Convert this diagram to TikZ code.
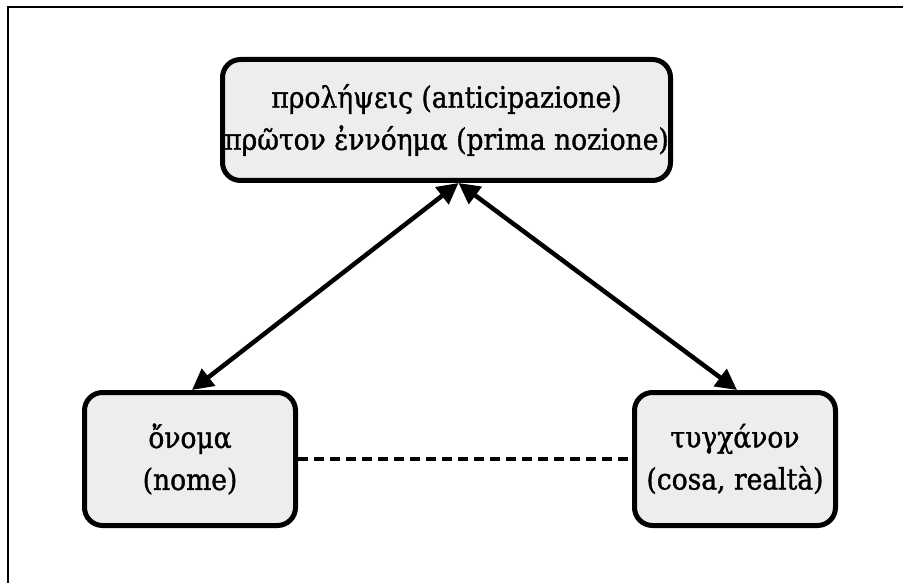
\documentclass[tikz,border=0pt]{standalone}
\usepackage{fontspec}
\setmainfont[FakeBold=1.2]{DejaVu Serif Condensed}
\usetikzlibrary{arrows.meta}
\begin{document}
\begin{tikzpicture}[x=1pt,y=-1pt,
  box/.style={draw=black,line width=5pt,rounded corners=18pt,fill=gray!14,
    align=center,inner sep=0pt,font=\fontsize{29.5}{42}\selectfont},
  biarrow/.style={line width=4.5pt,{Triangle[length=21pt,width=21pt]}-{Triangle[length=21pt,width=21pt]}},
  dashline/.style={line width=4.5pt,dash pattern=on 10pt off 6pt}]
\useasboundingbox (0,0) rectangle (903,583);
\draw[line width=2pt] (8,583) -- (8,7) -- (903,7);
\node[box,minimum width=448pt,minimum height=121pt] (top) at (446.5,120)
  {προλήψεις (anticipazione)\\πρῶτον ἐννόημα (prima nozione)};
\node[box,minimum width=211pt,minimum height=133pt] (left) at (190,459)
  {ὄνομα\\(nome)};
\node[box,minimum width=201pt,minimum height=133pt] (right) at (735,459)
  {τυγχάνον\\(cosa, realtà)};
\draw[biarrow] ([xshift=12pt]top.south) -- ([xshift=2pt]left.north);
\draw[biarrow] ([xshift=12pt]top.south) -- ([xshift=2pt]right.north);
\draw[dashline] (left.east) -- (right.west);
\end{tikzpicture}
\end{document}
